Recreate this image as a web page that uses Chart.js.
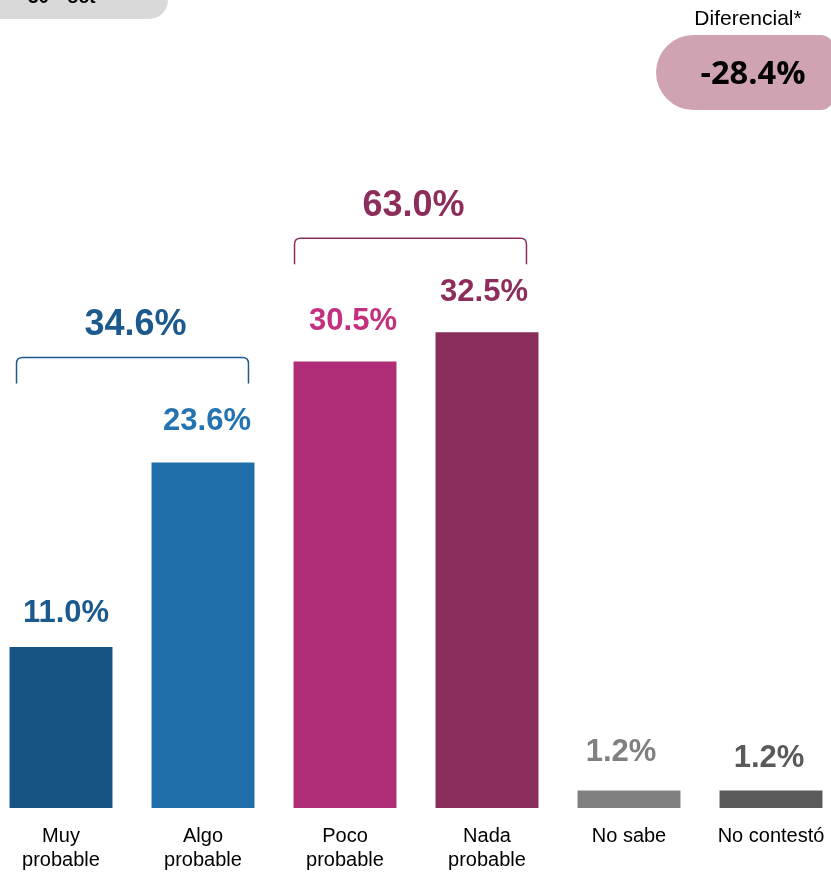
<!DOCTYPE html>
<html>
<head>
<meta charset="utf-8">
<script src="https://cdn.jsdelivr.net/npm/chart.js@4.4.1/dist/chart.umd.min.js"></script>
<style>
  html, body { margin: 0; padding: 0; background: #ffffff; overflow: hidden; width: 831px; height: 873px; }
  #wrap { position: absolute; left: -10px; top: 0; width: 852px; height: 888px; }
</style>
</head>
<body>
<div id="wrap"><canvas id="c" width="852" height="888"></canvas></div>
<script>
// ---- data ----
const categories = [["Muy", "probable"], ["Algo", "probable"], ["Poco", "probable"], ["Nada", "probable"], "No sabe", "No contestó"];
const values = [11.0, 23.6, 30.5, 32.5, 1.2, 1.2];
const valueLabels = ["11.0%", "23.6%", "30.5%", "32.5%", "1.2%", "1.2%"];
const groupMembers = [[0, 1], [2, 3]];
const groupTotals = ["34.6%", "63.0%"];
const differentialLabel = "Diferencial*";
const differentialValue = "-28.4%";
const headerText = "30 oct";

// ---- styles ----
const barColors = ["#175485", "#216faa", "#b02d77", "#892d5a", "#808080", "#5a5a5a"];
const labelColors = ["#1c5a8e", "#2573b1", "#c2307f", "#8c2d5c", "#808080", "#5a5a5a"];
const groupColors = ["#1c5a8e", "#8c2d5c"];
const FONT = '"Liberation Sans", Arial, Helvetica, sans-serif';
const OFFX = 10; // canvas is shifted 10px left of the page

const overlay = {
  id: 'overlay',
  afterDatasetsDraw(chart, args, opts) {
    const ctx = chart.ctx;
    const meta = chart.getDatasetMeta(0);
    ctx.save();
    // value labels
    ctx.textAlign = 'center';
    ctx.textBaseline = 'middle';
    ctx.font = 'bold 31px ' + FONT;
    meta.data.forEach((bar, i) => {
      const n = opts.nudges[i];
      ctx.fillStyle = labelColors[i];
      ctx.fillText(valueLabels[i], bar.x + n[0], bar.y - 38 + n[1]);
    });
    // group brackets
    groupMembers.forEach((g, k) => {
      const a = meta.data[g[0]], b = meta.data[g[g.length - 1]];
      const st = opts.groups[k];
      const left = a.x - a.width / 2 + st.inL;
      const right = b.x + b.width / 2 - st.inR;
      const topBar = Math.min(...g.map(j => meta.data[j].y));
      const top = topBar - st.rise;
      const leg = 26, r = 6;
      ctx.strokeStyle = groupColors[k];
      ctx.lineWidth = 1.5;
      ctx.beginPath();
      ctx.moveTo(left, top + leg);
      ctx.lineTo(left, top + r);
      ctx.quadraticCurveTo(left, top, left + r, top);
      ctx.lineTo(right - r, top);
      ctx.quadraticCurveTo(right, top, right, top + r);
      ctx.lineTo(right, top + leg);
      ctx.stroke();
      ctx.fillStyle = groupColors[k];
      ctx.font = 'bold 36px ' + FONT;
      ctx.fillText(groupTotals[k], (left + right) / 2 + 3, top - 32);
    });

    // header box (top-left)
    ctx.fillStyle = '#d9d9d9';
    ctx.beginPath();
    ctx.roundRect(OFFX - 20, -40, 168 + 20, 40 + 19, [0, 0, 19, 0]);
    ctx.fill();
    ctx.fillStyle = '#000000';
    ctx.font = 'bold 19px ' + FONT;
    ctx.textAlign = 'left';
    ctx.textBaseline = 'alphabetic';
    ctx.fillText(headerText.split(' ')[0], OFFX + 28, 3);
    ctx.fillText(headerText.split(' ')[1], OFFX + 67, 3);

    // differential badge (top-right)
    ctx.textAlign = 'center';
    ctx.textBaseline = 'middle';
    ctx.fillStyle = '#000000';
    ctx.font = '21px ' + FONT;
    ctx.fillText(differentialLabel, OFFX + 748, 19);
    ctx.fillStyle = '#d0a3b2';
    ctx.beginPath();
    ctx.roundRect(OFFX + 656, 35, 177, 75, [37.5, 12, 12, 37.5]);
    ctx.fill();
    ctx.fillStyle = '#000000';
    let fs = 30;
    const BF = '"Open Sans", ' + FONT;
    ctx.font = 'bold ' + fs + 'px ' + BF;
    const w = ctx.measureText(differentialValue).width;
    fs = fs * 105 / w;
    ctx.font = 'bold ' + fs.toFixed(1) + 'px ' + BF;
    ctx.fillText(differentialValue, OFFX + 753, 75);
    ctx.restore();
  }
};

new Chart(document.getElementById('c'), {
  type: 'bar',
  data: {
    labels: categories,
    datasets: [{
      data: values,
      backgroundColor: barColors,
      borderWidth: 0,
      barPercentage: 0.725,
      categoryPercentage: 1.0
    }]
  },
  options: {
    responsive: false,
    devicePixelRatio: 1,
    animation: false,
    events: [],
    layout: { padding: { top: 76, left: 0, right: 0, bottom: 0 } },
    plugins: {
      legend: { display: false },
      tooltip: { enabled: false },
      overlay: {
        nudges: [[5, 4], [4, -3], [8, -2], [-3, -2], [-8, 0], [-2, 6]],
        groups: [{ inL: 7, inR: 6, rise: 105 }, { inL: 1, inR: 12, rise: 94 }]
      }
    },
    scales: {
      x: {
        grid: { display: false, drawTicks: false },
        border: { display: false },
        ticks: {
          color: '#000000',
          padding: 16,
          maxRotation: 0,
          autoSkip: false,
          font: { family: FONT, size: 20, lineHeight: 1.2 }
        }
      },
      y: {
        display: false,
        min: 0,
        max: 50
      }
    }
  },
  plugins: [overlay]
});
</script>
</body>
</html>
